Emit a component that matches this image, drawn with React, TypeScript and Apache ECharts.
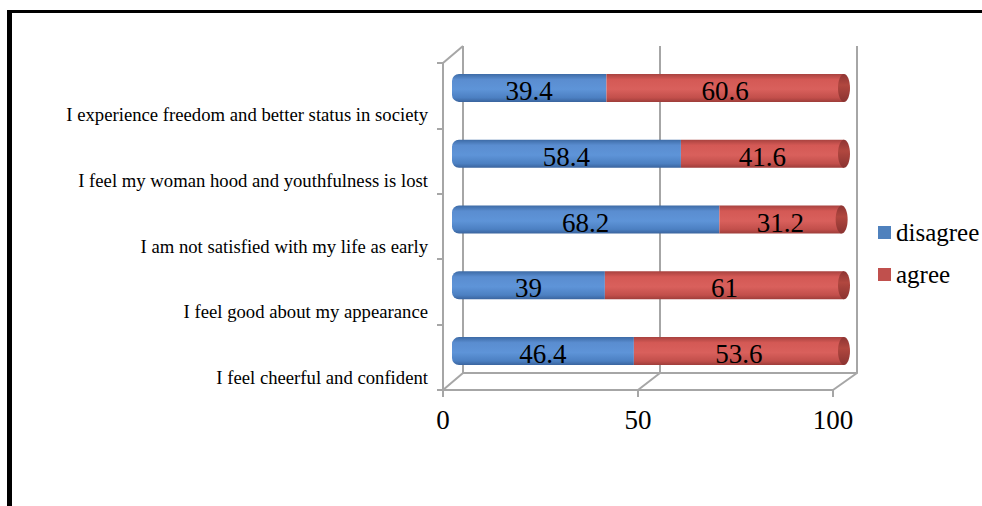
import React, { useEffect, useRef } from "react";
import * as echarts from "echarts";

// Survey statements, listed top to bottom
const categories = [
  "I experience freedom and better status in society",
  "I feel my woman hood and youthfulness is lost",
  "I am not satisfied with my life as early",
  "I feel good about my appearance",
  "I feel cheerful and confident",
];
const disagree = [39.4, 58.4, 68.2, 39, 46.4];
const agree = [60.6, 41.6, 31.2, 61, 53.6];
const axisTicks = [0, 50, 100];

const W = 982;
const H = 506;
const FONT = "Liberation Serif";
const GRAY = "#a6a6a6";

// Layout of the pseudo-3D frame: front plane, back wall, bar plane, label band
const BARS = { left: 452, right: 138, top: 55, bottom: 122 };
const BACK = { left: 463, right: 125, top: 46, bottom: 133 };
const FRONT = { left: 443, right: 149, top: 63, bottom: 116 };
const LABELS = { left: 443, right: 149, top: 82, bottom: 96 };

const grad = (stops: [number, string][]) =>
  new echarts.graphic.LinearGradient(
    0,
    0,
    0,
    1,
    stops.map(([offset, color]) => ({ offset, color }))
  );

const blueFill = grad([
  [0, "#3d6ba6"],
  [0.2, "#5a8dd0"],
  [0.55, "#5e94d8"],
  [0.85, "#4c80c2"],
  [1, "#3a649e"],
]);
const redFill = grad([
  [0, "#a8423f"],
  [0.2, "#d45955"],
  [0.55, "#d9605c"],
  [0.85, "#c24f4b"],
  [1, "#9e3d3a"],
]);
const capFill = grad([
  [0, "#8e3533"],
  [0.4, "#b1473f"],
  [1, "#8a3331"],
]);

export default function App() {
  const ref = useRef<HTMLDivElement>(null);

  useEffect(() => {
    if (!ref.current) return;
    const chart = echarts.init(ref.current, undefined, { renderer: "svg" });

    const barLabel = {
      show: true,
      position: "inside",
      offset: [0, 3],
      color: "#000",
      fontFamily: FONT,
      fontSize: 27,
    };

    chart.setOption({
      animation: false,
      backgroundColor: "#fff",
      textStyle: { fontFamily: FONT },
      legend: {
        orient: "vertical",
        left: 873,
        top: 215,
        itemWidth: 13,
        itemHeight: 13,
        itemGap: 17,
        icon: "rect",
        textStyle: { fontFamily: FONT, fontSize: 25, color: "#000" },
        data: [
          { name: "disagree", itemStyle: { color: "#4F81BD" } },
          { name: "agree", itemStyle: { color: "#C0504D" } },
        ],
      },
      grid: [
        { ...BARS },
        { ...BACK },
        { ...FRONT },
        { ...LABELS },
      ],
      xAxis: [
        { gridIndex: 0, type: "value", min: 0, max: 100, show: false },
        {
          gridIndex: 1,
          type: "value",
          min: 0,
          max: 100,
          interval: 50,
          axisLine: { show: true, lineStyle: { color: GRAY, width: 2 } },
          axisTick: { show: false },
          axisLabel: { show: false },
          splitLine: { show: true, lineStyle: { color: GRAY, width: 2 } },
        },
        {
          gridIndex: 2,
          type: "value",
          min: 0,
          max: 100,
          interval: 50,
          axisLine: { show: true, lineStyle: { color: GRAY, width: 2 } },
          axisTick: { show: true, length: 7, lineStyle: { color: GRAY, width: 2 } },
          axisLabel: {
            color: "#000",
            fontFamily: FONT,
            fontSize: 27,
            margin: 16,
          },
          splitLine: { show: false },
        },
        { gridIndex: 3, type: "value", min: 0, max: 100, show: false },
      ],
      yAxis: [
        { gridIndex: 0, type: "category", data: categories, inverse: true, show: false },
        { gridIndex: 1, type: "value", show: false },
        {
          gridIndex: 2,
          type: "category",
          data: categories,
          inverse: true,
          axisLine: { show: true, lineStyle: { color: GRAY, width: 2 } },
          axisTick: { show: true, length: 6, lineStyle: { color: GRAY, width: 2 } },
          axisLabel: { show: false },
        },
        {
          gridIndex: 3,
          type: "category",
          data: categories,
          inverse: true,
          axisLine: { show: false },
          axisTick: { show: false },
          axisLabel: {
            color: "#000",
            fontFamily: FONT,
            fontSize: 18.7,
            margin: 15,
          },
        },
      ],
      series: [
        {
          name: "disagree",
          type: "bar",
          stack: "total",
          xAxisIndex: 0,
          yAxisIndex: 0,
          barWidth: 28,
          data: disagree,
          itemStyle: { color: blueFill, borderRadius: [7, 0, 0, 7] },
          label: barLabel,
          z: 3,
        },
        {
          name: "agree",
          type: "bar",
          stack: "total",
          xAxisIndex: 0,
          yAxisIndex: 0,
          barWidth: 28,
          data: agree,
          itemStyle: { color: redFill },
          label: barLabel,
          z: 3,
        },
        {
          // darker elliptical end cap on the right of each cylinder
          name: "cap",
          type: "custom",
          xAxisIndex: 0,
          yAxisIndex: 0,
          z: 4,
          silent: true,
          data: categories.map((_, i) => [disagree[i] + agree[i], i]),
          renderItem: (_params: any, api: any) => {
            const p = api.coord([api.value(0), api.value(1)]);
            return {
              type: "ellipse",
              shape: { cx: p[0], cy: p[1], rx: 6, ry: 14 },
              style: { fill: capFill },
            };
          },
        },
      ],
    });

    // Depth connectors between the front plane and the back wall
    const frontX = (v: number) => chart.convertToPixel({ xAxisIndex: 2 }, v) as number;
    const backX = (v: number) => chart.convertToPixel({ xAxisIndex: 1 }, v) as number;
    const frontBottom = H - FRONT.bottom;
    const backBottom = H - BACK.bottom;
    const lineStyle = { stroke: GRAY, lineWidth: 2 };
    const connectors: any[] = axisTicks.map((v) => ({
      type: "line",
      silent: true,
      z: 1,
      shape: { x1: frontX(v), y1: frontBottom, x2: backX(v), y2: backBottom },
      style: lineStyle,
    }));
    connectors.push({
      type: "line",
      silent: true,
      z: 1,
      shape: { x1: frontX(0), y1: FRONT.top, x2: backX(0), y2: BACK.top },
      style: lineStyle,
    });

    chart.setOption({
      graphic: [
        ...connectors,
        {
          type: "line",
          silent: true,
          shape: { x1: 9.5, y1: 10, x2: 9.5, y2: H },
          style: { stroke: "#000", lineWidth: 5 },
        },
        {
          type: "line",
          silent: true,
          shape: { x1: 7, y1: 11.5, x2: W, y2: 11.5 },
          style: { stroke: "#000", lineWidth: 3 },
        },
      ],
    });

    return () => chart.dispose();
  }, []);

  return (
    <div
      ref={ref}
      style={{ position: "fixed", left: 0, top: 0, width: W, height: H }}
    />
  );
}
